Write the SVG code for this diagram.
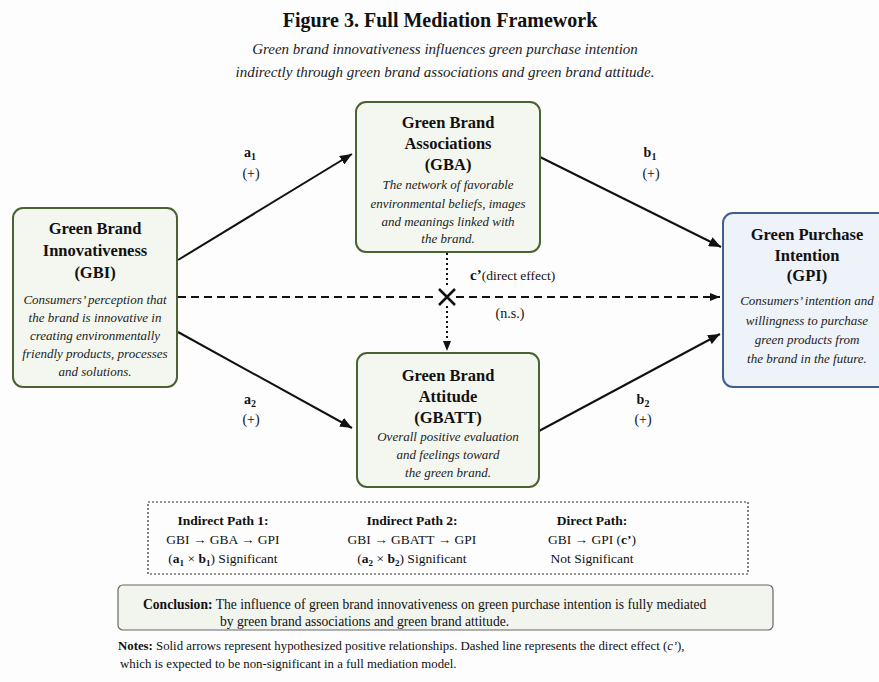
<svg xmlns="http://www.w3.org/2000/svg" width="879" height="682" viewBox="0 0 879 682">
<style>
text{font-family:"Liberation Serif","Times New Roman",serif;fill:#111}
.title{font-size:20px;font-weight:bold;text-anchor:middle}
.sub{font-size:15px;font-style:italic;text-anchor:middle;fill:#222}
.nt{font-size:16.5px;font-weight:bold;text-anchor:middle}
.nd{font-size:13px;font-style:italic;text-anchor:middle;fill:#222}
.gbox{fill:#f4f7ef;stroke:#4b6332;stroke-width:2}
.bbox{fill:#eef2f9;stroke:#3e5f8f;stroke-width:2}
.lab{font-size:14px;text-anchor:middle}
.b{font-weight:bold}
.sm{font-size:13.5px;text-anchor:middle}
.conn{stroke:#111;stroke-width:2;fill:none}
</style>
<defs>
<marker id="ah" viewBox="0 0 12 10" refX="12" refY="5" markerWidth="12" markerHeight="10" markerUnits="userSpaceOnUse" orient="auto">
<path d="M0,0 L12,5 L0,10 z" fill="#111"/>
</marker>
<marker id="ahs" viewBox="0 0 10 8" refX="10" refY="4" markerWidth="10" markerHeight="8" markerUnits="userSpaceOnUse" orient="auto">
<path d="M0,0 L10,4 L0,8 z" fill="#111"/>
</marker>
</defs>
<rect width="879" height="682" fill="#fdfdfd"/>
<text class="title" x="440" y="27">Figure 3. Full Mediation Framework</text>
<text class="sub" x="445" y="54">Green brand innovativeness influences green purchase intention</text>
<text class="sub" x="445" y="77">indirectly through green brand associations and green brand attitude.</text>

<g id="connectors">
<line class="conn" x1="178" y1="260" x2="352" y2="154" marker-end="url(#ah)"/>
<line class="conn" x1="540" y1="157" x2="721" y2="247" marker-end="url(#ah)"/>
<line class="conn" x1="178" y1="332" x2="352" y2="428" marker-end="url(#ah)"/>
<line class="conn" x1="539" y1="431" x2="720" y2="334" marker-end="url(#ah)"/>
<line class="conn" x1="178" y1="297" x2="438" y2="297" stroke-dasharray="8,5"/>
<line class="conn" x1="456" y1="297" x2="720" y2="297" stroke-dasharray="8,5" marker-end="url(#ahs)"/>
<line class="conn" x1="447" y1="253" x2="447" y2="288" stroke-dasharray="2,3"/>
<line class="conn" x1="447" y1="306" x2="447" y2="351" stroke-dasharray="2,3" marker-end="url(#ahs)"/>
<path d="M439,289 L455,305 M455,289 L439,305" stroke="#111" stroke-width="2.5"/>
<text class="lab" x="250" y="157"><tspan class="b">a</tspan><tspan class="b" font-size="10" dy="3">1</tspan></text>
<text class="lab" x="251" y="178">(+)</text>
<text class="lab" x="650" y="157"><tspan class="b">b</tspan><tspan class="b" font-size="10" dy="3">1</tspan></text>
<text class="lab" x="651" y="178">(+)</text>
<text class="lab" x="250" y="404"><tspan class="b">a</tspan><tspan class="b" font-size="10" dy="3">2</tspan></text>
<text class="lab" x="251" y="424">(+)</text>
<text class="lab" x="643" y="404"><tspan class="b">b</tspan><tspan class="b" font-size="10" dy="3">2</tspan></text>
<text class="lab" x="643" y="424">(+)</text>
<text x="470" y="280" font-size="13.5"><tspan font-weight="bold" font-size="15">c’</tspan>(direct effect)</text>
<text class="lab" x="510" y="318" font-size="13.5">(n.s.)</text>
</g>

<g id="GBI">
<rect class="gbox" x="13" y="208" width="164" height="179" rx="10"/>
<text class="nt" x="95" y="234">Green Brand</text>
<text class="nt" x="95" y="256">Innovativeness</text>
<text class="nt" x="95" y="278">(GBI)</text>
<text class="nd" x="95" y="304">Consumers’ perception that</text>
<text class="nd" x="95" y="322">the brand is innovative in</text>
<text class="nd" x="95" y="340">creating environmentally</text>
<text class="nd" x="95" y="358">friendly products, processes</text>
<text class="nd" x="95" y="376">and solutions.</text>
</g>

<g id="GBA">
<rect class="gbox" x="356" y="102" width="184" height="150" rx="10"/>
<text class="nt" x="448" y="128">Green Brand</text>
<text class="nt" x="448" y="149">Associations</text>
<text class="nt" x="448" y="170">(GBA)</text>
<text class="nd" x="448" y="189">The network of favorable</text>
<text class="nd" x="448" y="208">environmental beliefs, images</text>
<text class="nd" x="448" y="226">and meanings linked with</text>
<text class="nd" x="448" y="243">the brand.</text>
</g>

<g id="GBATT">
<rect class="gbox" x="357" y="353" width="182" height="134" rx="10"/>
<text class="nt" x="448" y="381">Green Brand</text>
<text class="nt" x="448" y="402">Attitude</text>
<text class="nt" x="448" y="423">(GBATT)</text>
<text class="nd" x="448" y="441">Overall positive evaluation</text>
<text class="nd" x="448" y="459">and feelings toward</text>
<text class="nd" x="448" y="477">the green brand.</text>
</g>

<g id="GPI">
<rect class="bbox" x="723" y="213" width="170" height="174" rx="10"/>
<text class="nt" x="807" y="240">Green Purchase</text>
<text class="nt" x="807" y="261">Intention</text>
<text class="nt" x="807" y="281">(GPI)</text>
<text class="nd" x="807" y="305">Consumers’ intention and</text>
<text class="nd" x="807" y="325">willingness to purchase</text>
<text class="nd" x="807" y="344">green products from</text>
<text class="nd" x="807" y="363">the brand in the future.</text>
</g>

<g id="paths-summary">
<rect x="148" y="502" width="600" height="72" fill="none" stroke="#333" stroke-width="1.2" stroke-dasharray="2,2"/>
<text class="sm b" x="223" y="525">Indirect Path 1:</text>
<text class="sm" x="223" y="544">GBI → GBA → GPI</text>
<text class="sm" x="223" y="563">(<tspan class="b">a</tspan><tspan font-size="9" dy="3" class="b">1</tspan><tspan dy="-3"> × </tspan><tspan class="b">b</tspan><tspan font-size="9" dy="3" class="b">1</tspan><tspan dy="-3">)  Significant</tspan></text>
<text class="sm b" x="412" y="525">Indirect Path 2:</text>
<text class="sm" x="412" y="544">GBI → GBATT → GPI</text>
<text class="sm" x="412" y="563">(<tspan class="b">a</tspan><tspan font-size="9" dy="3" class="b">2</tspan><tspan dy="-3"> × </tspan><tspan class="b">b</tspan><tspan font-size="9" dy="3" class="b">2</tspan><tspan dy="-3">)  Significant</tspan></text>
<text class="sm b" x="592" y="525">Direct Path:</text>
<text class="sm" x="592" y="544">GBI → GPI (<tspan class="b">c’</tspan>)</text>
<text class="sm" x="592" y="563">Not Significant</text>
</g>

<g id="conclusion">
<rect x="118" y="585" width="655" height="45" rx="5" fill="#f2f4ee" stroke="#666" stroke-width="1.2"/>
<text x="143" y="609" font-size="13.6"><tspan font-weight="bold">Conclusion:</tspan> The influence of green brand innovativeness on green purchase intention is fully mediated</text>
<text x="220" y="626" font-size="13.6">by green brand associations and green brand attitude.</text>
</g>

<g id="notes">
<text x="118" y="650" font-size="12.8"><tspan font-weight="bold">Notes:</tspan> Solid arrows represent hypothesized positive relationships. Dashed line represents the direct effect (<tspan font-style="italic">c’</tspan>),</text>
<text x="120" y="668" font-size="12.8">which is expected to be non-significant in a full mediation model.</text>
</g>
</svg>
